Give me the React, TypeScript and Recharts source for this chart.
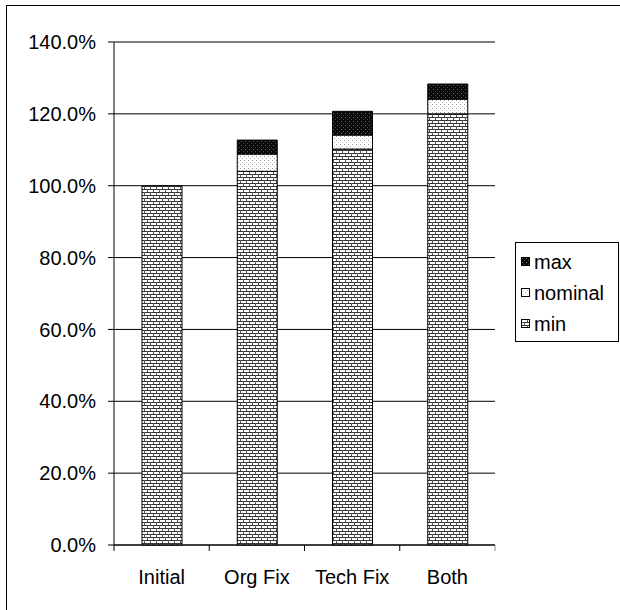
import React from 'react';
import { BarChart, Bar, XAxis, YAxis, CartesianGrid } from 'recharts';

const categories = ['Initial', 'Org Fix', 'Tech Fix', 'Both'];
const minValues = [1.0, 1.04, 1.102, 1.2];
const nominalValues: (number | null)[] = [null, 0.048, 0.039, 0.041];
const maxValues: (number | null)[] = [null, 0.039, 0.066, 0.042];
const yTicks = [0, 0.2, 0.4, 0.6, 0.8, 1.0, 1.2, 1.4];
const seriesNames = { min: 'min', nominal: 'nominal', max: 'max' };

const data = categories.map((c, i) => ({
  name: c,
  min: minValues[i],
  nominal: nominalValues[i],
  max: maxValues[i],
}));

const FONT = '"Liberation Sans", Arial, sans-serif';

const fmt = (v: number) => (v * 100).toFixed(1) + '%';

const XTick = (props: any) => {
  const { x, y, payload, index, visibleTicksCount } = props;
  const off = payload && payload.offset ? payload.offset : 47.6;
  const last = index === (visibleTicksCount ?? 4) - 1;
  return (
    <g>
      <line x1={x - off} y1={y} x2={x - off} y2={y + 6} stroke="#000" />
      {last && <line x1={x + off} y1={y} x2={x + off} y2={y + 6} stroke="#888" />}
      <text x={x} y={y + 39} textAnchor="middle" fontSize={20} fontFamily={FONT} fill="#000">
        {payload.value}
      </text>
    </g>
  );
};

const Swatch = ({ fill }: { fill: string }) => (
  <svg width={9} height={9} style={{ display: 'block', flexShrink: 0 }}>
    <rect x={0.5} y={0.5} width={8} height={8} fill={fill} stroke="#000" strokeWidth={1} />
  </svg>
);

const LegendBox = () => {
  const items = [
    { name: seriesNames.max, fill: 'url(#patMax)' },
    { name: seriesNames.nominal, fill: 'url(#patNom)' },
    { name: seriesNames.min, fill: 'url(#patMin)' },
  ];
  return (
    <div
      style={{
        position: 'absolute',
        left: 515,
        top: 242,
        width: 104,
        height: 100,
        border: '1px solid #000',
        background: '#fff',
        boxSizing: 'border-box',
        paddingTop: 3,
        fontFamily: FONT,
        fontSize: 20,
      }}
    >
      {items.map((it) => (
        <div key={it.name} style={{ display: 'flex', alignItems: 'center', height: 31, paddingLeft: 5, whiteSpace: 'nowrap' }}>
          <Swatch fill={it.fill} />
          <span style={{ marginLeft: 4, color: '#000', lineHeight: '20px' }}>{it.name}</span>
        </div>
      ))}
    </div>
  );
};

export default function App() {
  return (
    <div style={{ position: 'absolute', left: 0, top: 0, width: 620, height: 610, background: '#fff', overflow: 'hidden' }}>
      <div
        style={{
          position: 'absolute',
          left: 6,
          top: 5,
          width: 640,
          height: 640,
          borderLeft: '1px solid #000',
          borderTop: '1px solid #000',
        }}
      />
      <div style={{ position: 'absolute', left: 0, top: 0 }}>
        <BarChart
          width={620}
          height={610}
          data={data}
          margin={{ top: 42, right: 125, bottom: 35, left: 0 }}
          barSize={40}
        >
          <defs>
            <pattern id="patMin" patternUnits="userSpaceOnUse" width={6} height={6}>
              <rect x={0} y={0} width={6} height={6} fill="#fff" />
              <rect x={0} y={0} width={6} height={1} fill="#333" />
              <rect x={0} y={3} width={6} height={1} fill="#333" />
              <rect x={0} y={0} width={1} height={3} fill="#555" />
              <rect x={3} y={3} width={1} height={3} fill="#555" />
            </pattern>
            <pattern id="patNom" patternUnits="userSpaceOnUse" width={4} height={4}>
              <rect x={0} y={0} width={4} height={4} fill="#fff" />
              <rect x={0} y={0} width={1} height={1} fill="#999" />
              <rect x={2} y={2} width={1} height={1} fill="#bbb" />
            </pattern>
            <pattern id="patMax" patternUnits="userSpaceOnUse" width={4} height={4}>
              <rect x={0} y={0} width={4} height={4} fill="#0a0a0a" />
              <rect x={1} y={1} width={1} height={1} fill="#666" />
              <rect x={3} y={3} width={1} height={1} fill="#444" />
            </pattern>
          </defs>
          <CartesianGrid vertical={false} stroke="#000" strokeWidth={1} />
          <XAxis
            dataKey="name"
            axisLine={{ stroke: '#000' }}
            tickLine={false}
            tickSize={0}
            tickMargin={0}
            height={30}
            tick={<XTick />}
            interval={0}
          />
          <YAxis
            domain={[0, 1.4]}
            ticks={yTicks}
            tickFormatter={fmt}
            width={114}
            tickSize={6}
            tickMargin={12}
            axisLine={{ stroke: '#000' }}
            tickLine={{ stroke: '#000' }}
            tick={{ fill: '#000', fontSize: 20, fontFamily: FONT }}
            interval={0}
          />
          <YAxis
            yAxisId="right"
            orientation="right"
            width={0}
            tick={false}
            tickLine={false}
            axisLine={{ stroke: '#888' }}
            domain={[0, 1.4]}
          />
          <Bar dataKey="min" name={seriesNames.min} stackId="a" fill="url(#patMin)" stroke="#000" strokeWidth={1} isAnimationActive={false} />
          <Bar dataKey="nominal" name={seriesNames.nominal} stackId="a" fill="url(#patNom)" stroke="#000" strokeWidth={1} isAnimationActive={false} />
          <Bar dataKey="max" name={seriesNames.max} stackId="a" fill="url(#patMax)" stroke="#000" strokeWidth={1} isAnimationActive={false} />
        </BarChart>
      </div>
      <LegendBox />
    </div>
  );
}
